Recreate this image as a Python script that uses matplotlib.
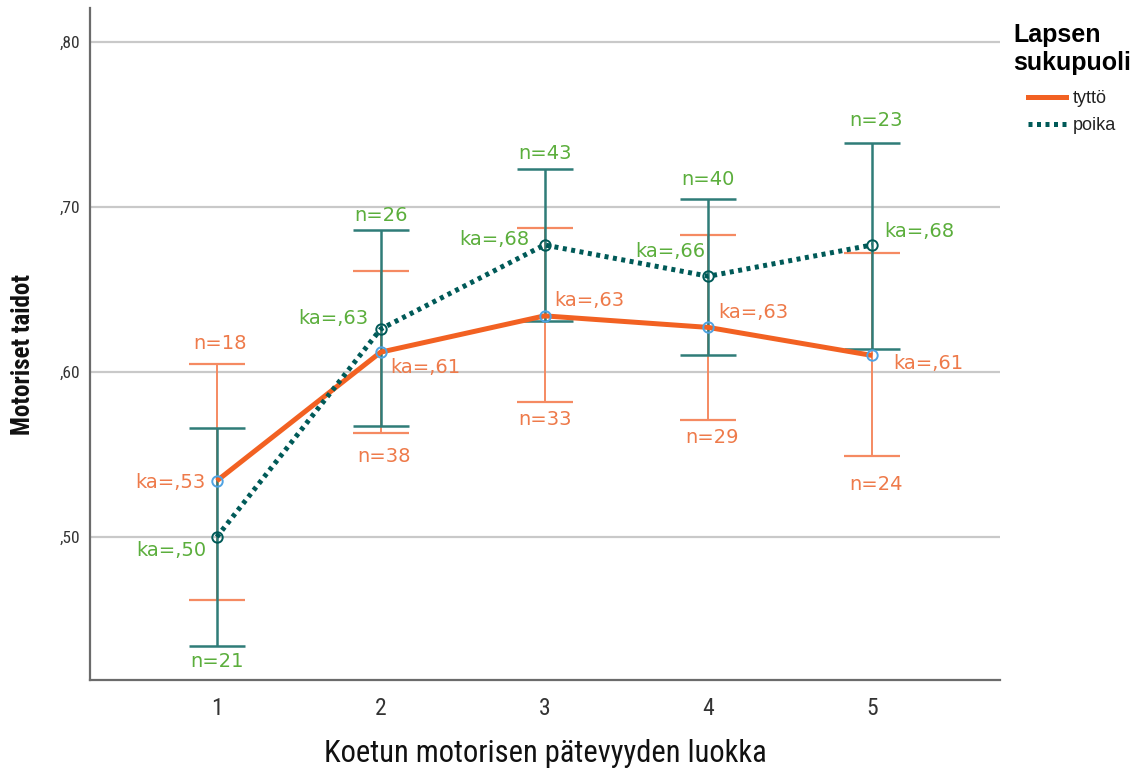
import matplotlib
matplotlib.use("Agg")
import matplotlib.pyplot as plt
from matplotlib import font_manager
from matplotlib.lines import Line2D
from matplotlib.ticker import FuncFormatter, FixedLocator

# ---- data ----
categories = [1, 2, 3, 4, 5]
girls_mean = [0.534, 0.612, 0.634, 0.627, 0.610]
girls_low = [0.462, 0.563, 0.582, 0.571, 0.549]
girls_high = [0.605, 0.661, 0.687, 0.683, 0.672]
girls_n = [18, 38, 33, 29, 24]
boys_mean = [0.500, 0.626, 0.677, 0.658, 0.677]
boys_low = [0.434, 0.567, 0.631, 0.610, 0.614]
boys_high = [0.566, 0.686, 0.723, 0.705, 0.739]
boys_n = [21, 26, 43, 40, 23]
series_labels = ["tyttö", "poika"]
y_ticks = [0.50, 0.60, 0.70, 0.80]

# ---- fonts: look for a condensed sans ----
ttf = font_manager.fontManager.ttflist
names = {f.name for f in ttf}
narrow, narrow_stretch = None, 'normal'
for cand in ["Liberation Sans Narrow", "Arial Narrow", "Roboto Condensed",
             "Open Sans Condensed", "Noto Sans Condensed", "DejaVu Sans Condensed"]:
    if cand in names:
        narrow = cand
        break
if narrow is None:
    cond = [f for f in ttf if str(f.stretch) in ('condensed', 'semi-condensed', 'extra-condensed', '75', '87.5', '62.5')]
    if cond:
        narrow = cond[0].name
        narrow_stretch = 'condensed'
    else:
        narrow = "Liberation Sans"
plt.rcParams['font.family'] = ['DejaVu Sans']

C_OR_LINE = "#F26122"
C_OR_ERR = "#F58A62"
C_OR_TXT = "#EE7A4A"
C_TE_LINE = "#005A58"
C_TE_ERR = "#2F7C78"
C_GR_TXT = "#5BAE3C"
C_MK_G = "#4FA3E3"

fig = plt.figure(figsize=(11.43, 7.70), dpi=100)
ax = fig.add_axes([90/1143, 1-680/770, 910/1143, 672/770])

ax.set_xlim(0.226, 5.78)
ax.set_ylim(0.4133, 0.8206)

ax.yaxis.set_major_locator(FixedLocator(y_ticks))
ax.grid(axis='y', color="#c9c9c9", lw=1.6, zorder=0)
ax.set_axisbelow(True)

g_err = [[m - l for m, l in zip(girls_mean, girls_low)],
         [h - m for m, h in zip(girls_mean, girls_high)]]
b_err = [[m - l for m, l in zip(boys_mean, boys_low)],
         [h - m for m, h in zip(boys_mean, boys_high)]]
ax.errorbar(categories, girls_mean, yerr=g_err, fmt='none', ecolor=C_OR_ERR,
            elinewidth=1.4, capsize=20, capthick=1.6, zorder=2)
ax.errorbar(categories, boys_mean, yerr=b_err, fmt='none', ecolor=C_TE_ERR,
            elinewidth=1.8, capsize=20, capthick=1.8, zorder=3)

ax.plot(categories, girls_mean, color=C_OR_LINE, lw=3.6, solid_capstyle='butt', zorder=4)
ax.plot(categories, boys_mean, color=C_TE_LINE, lw=3.6, linestyle=(0, (0.8, 0.9)), zorder=5)
ax.plot(categories, girls_mean, linestyle='none', marker='o', ms=7.5, mfc='none',
        mec=C_MK_G, mew=1.4, zorder=6)
ax.plot(categories, boys_mean, linestyle='none', marker='o', ms=7.5, mfc='none',
        mec=C_TE_LINE, mew=1.4, zorder=6)

def fmt_mean(v):
    return "ka=," + f"{v:.2f}".split(".")[1]

px = 72/100
g_n_anchor = ['high', 'low', 'low', 'low', 'low']
g_n_off = [(3, 20), (3, -23), (0, -18), (4, -18), (4, -28)]
g_ka_off = [(-11, -2, 'right'), (10, -15, 'left'), (10, 15, 'left'), (10, 15, 'left'), (21, -8, 'left')]
b_n_anchor = ['low', 'high', 'high', 'high', 'high']
b_n_off = [(0, -16), (0, 15), (0, 16), (0, 19), (4, 22)]
b_ka_off = [(-10, -14, 'right'), (-12, 11, 'right'), (-15, 5, 'right'), (-3, 25, 'right'), (12, 13, 'left')]

lab_fs = 14
for i, x in enumerate(categories):
    yv = girls_high[i] if g_n_anchor[i] == 'high' else girls_low[i]
    dx, dy = g_n_off[i]
    ax.annotate(f"n={girls_n[i]}", (x, yv), xytext=(dx*px, dy*px), textcoords='offset points',
                ha='center', va='center', color=C_OR_TXT, fontsize=lab_fs, zorder=7)
    dx, dy, ha = g_ka_off[i]
    ax.annotate(fmt_mean(girls_mean[i]), (x, girls_mean[i]), xytext=(dx*px, dy*px),
                textcoords='offset points', ha=ha, va='center', color=C_OR_TXT,
                fontsize=lab_fs, zorder=7)
    yv = boys_high[i] if b_n_anchor[i] == 'high' else boys_low[i]
    dx, dy = b_n_off[i]
    ax.annotate(f"n={boys_n[i]}", (x, yv), xytext=(dx*px, dy*px), textcoords='offset points',
                ha='center', va='center', color=C_GR_TXT, fontsize=lab_fs, zorder=7)
    dx, dy, ha = b_ka_off[i]
    ax.annotate(fmt_mean(boys_mean[i]), (x, boys_mean[i]), xytext=(dx*px, dy*px),
                textcoords='offset points', ha=ha, va='center', color=C_GR_TXT,
                fontsize=lab_fs, zorder=7)

for s in ['top', 'right']:
    ax.spines[s].set_visible(False)
for s in ['left', 'bottom']:
    ax.spines[s].set_color("#6b6b6b")
    ax.spines[s].set_linewidth(1.6)
ax.tick_params(axis='both', length=0)
ax.set_xticks(categories)
ax.set_xticklabels([str(c) for c in categories], fontfamily=narrow, fontstretch=narrow_stretch,
                   fontsize=17, color="#333333")
ax.tick_params(axis='x', pad=12)
ax.tick_params(axis='y', pad=7)
ax.yaxis.set_major_formatter(FuncFormatter(lambda v, p: "," + f"{v:.2f}".split(".")[1]))
for t in ax.get_yticklabels():
    t.set_fontfamily(narrow)
    t.set_fontstretch(narrow_stretch)
    t.set_fontsize(12.5)
    t.set_color("#333333")

ax.set_xlabel("Koetun motorisen pätevyyden luokka", fontfamily=narrow, fontstretch=narrow_stretch,
              fontsize=22, labelpad=14, color="#111111")
ax.set_ylabel("Motoriset taidot", fontfamily=narrow, fontstretch=narrow_stretch, fontsize=18,
              fontweight='bold', color="#111111")
ax.yaxis.set_label_coords(-0.060, 0.484)

handles = [Line2D([0], [0], color=C_OR_LINE, lw=3.6),
           Line2D([0], [0], color=C_TE_LINE, lw=3.6, linestyle=(0, (0.8, 0.9)))]
leg = fig.legend(handles, series_labels, loc='upper center',
                 bbox_to_anchor=(1072/1143, 1-7/770), frameon=False,
                 title="Lapsen\nsukupuoli", handlelength=2.1, handletextpad=0.35,
                 labelspacing=0.55,
                 prop={'family': 'Liberation Sans', 'size': 13},
                 title_fontproperties={'family': 'Liberation Sans', 'size': 18, 'weight': 'bold'})
for t in leg.get_texts():
    t.set_color("#222222")
leg._legend_box.sep = 11

fig.savefig("out.png", dpi=100)
